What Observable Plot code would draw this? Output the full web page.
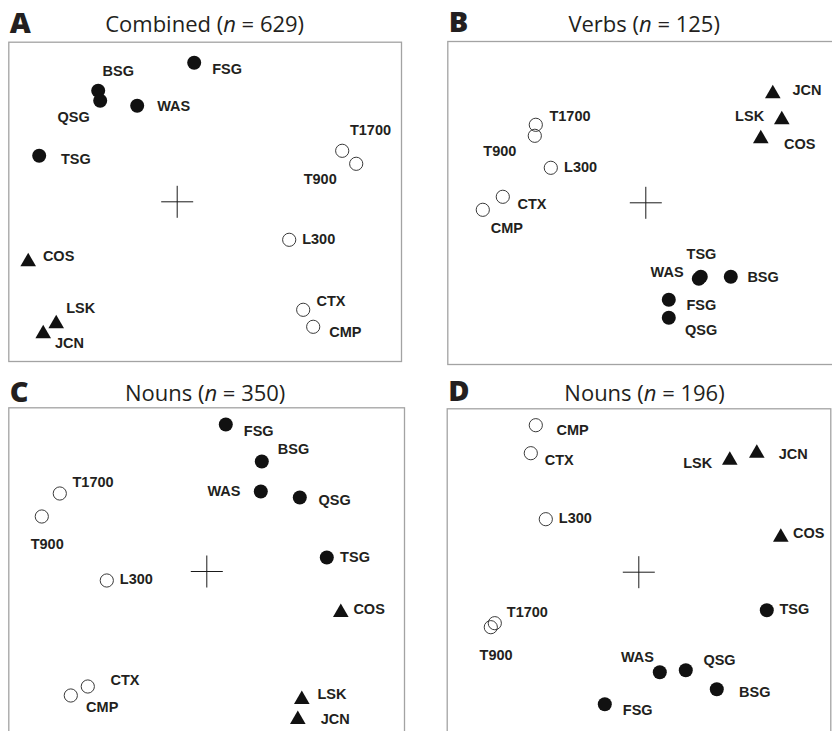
<!DOCTYPE html>
<html><head><meta charset="utf-8">
<script src="https://cdn.jsdelivr.net/npm/d3@7"></script>
<script src="https://cdn.jsdelivr.net/npm/@observablehq/plot@0.6"></script>
<style>
html,body{margin:0;padding:0;background:#fff;overflow:hidden;}
#root{position:relative;width:832px;height:731px;overflow:hidden;background:#fff;}
#root svg{position:absolute;overflow:visible;background:transparent;}
</style></head><body><div id="root"></div>
<script>
// ---- data ----
const labels = ["BSG","FSG","QSG","TSG","WAS","T1700","T900","L300","CTX","CMP","COS","LSK","JCN"];
const groups = ["filled","filled","filled","filled","filled","open","open","open","open","open","triangle","triangle","triangle"];
const panelLetters = ["A","B","C","D"];
const panelNames = ["Combined","Verbs","Nouns","Nouns"];
const panelN = [629,125,350,196];

const combinedX = [-0.79, 0.17, -0.77, -1.38, -0.40, 1.65, 1.79, 1.12, 1.26, 1.36, -1.49, -1.21, -1.34];
const combinedY = [ 1.11, 1.39,  1.01,  0.46,  0.96, 0.51, 0.38, -0.38, -1.08, -1.25, -0.60, -1.22, -1.32];
const verbsX = [0.85, 0.23, 0.23, 0.55, 0.53, -1.10, -1.11, -0.95, -1.43, -1.63, 1.15, 1.36, 1.27];
const verbsY = [-0.74, -0.97, -1.15, -0.74, -0.76, 0.78, 0.67, 0.35, 0.06, -0.07, 0.64, 0.83, 1.09];
const nouns350X = [0.55, 0.19, 0.93, 1.20, 0.54, -1.47, -1.65, -1.00, -1.19, -1.36, 1.34, 0.95, 0.91];
const nouns350Y = [1.10, 1.47, 0.74, 0.14, 0.80, 0.78, 0.55, -0.09, -1.15, -1.24, -0.41, -1.28, -1.48];
const nouns196X = [0.78, -0.34, 0.47, 1.28, 0.21, -1.44, -1.48, -0.93, -1.08, -1.03, 1.42, 0.91, 1.18];
const nouns196Y = [-1.17, -1.32, -0.98, -0.38, -1.00, -0.51, -0.55, 0.53, 1.19, 1.47, 0.35, 1.12, 1.19];
const origin = [{x: 0, y: 0}];

const panelX = [combinedX, verbsX, nouns350X, nouns196X];
const panelY = [combinedY, verbsY, nouns350Y, nouns196Y];

// ---- layout (pixels) ----
const K = 100; // pixels per unit
const layout = [
  {svgLeft: 0,   svgTop: 0,   left: 8.3,   top: 41.7,  right: 401,   bottom: 361, cx: 176.7, cy: 201.3, letterDy: -9.4, titleDy: -10.2, titleDx: -0.5},
  {svgLeft: 420, svgTop: 0,   left: 447.3, top: 41,    right: 840,   bottom: 364, cx: 645.3, cy: 202.3, letterDy: -9.3, titleDy: -10,   titleDx: 0},
  {svgLeft: 0,   svgTop: 360, left: 8.3,   top: 407.3, right: 404,   bottom: 780, cx: 206.3, cy: 571,   letterDy: -6.3, titleDy: -6.6,  titleDx: -1.5},
  {svgLeft: 420, svgTop: 360, left: 446.7, top: 408.3, right: 830.3, bottom: 780, cx: 638.3, cy: 571.7, letterDy: -7.3, titleDy: -7.6,  titleDx: 5.5}
];
// label placement: [dx, dy, anchor] in pixels
const labelPlacement = [
  {BSG:[20,-19.3,"middle"], FSG:[18,6.3,"start"], QSG:[-26.6,16.6,"middle"], TSG:[21.7,4,"start"], WAS:[20,1,"start"],
   T1700:[28.3,-20,"middle"], T900:[-36,15.6,"middle"], L300:[13,0,"start"], CTX:[13.3,-8,"start"], CMP:[16,5.4,"start"],
   COS:[14.7,-5.4,"start"], LSK:[10,-15,"start"], JCN:[11.7,10,"start"]},
  {BSG:[16.6,0.6,"start"], FSG:[17.7,5.3,"start"], QSG:[32.3,12.3,"middle"], TSG:[0.7,-22,"middle"], WAS:[-15.2,-6.8,"end"],
   T1700:[13.6,-8,"start"], T900:[-35,15.7,"middle"], L300:[13.3,-0.6,"start"], CTX:[14.7,7.3,"start"], CMP:[24,18.7,"middle"],
   COS:[23.3,5.1,"start"], LSK:[-17.7,-3.5,"end"], JCN:[19.7,-3.6,"start"]},
  {BSG:[16,-11.7,"start"], FSG:[18,6.4,"start"], QSG:[18.7,2.7,"start"], TSG:[13.3,-0.6,"start"], WAS:[-20.3,0,"end"],
   T1700:[12.7,-11.6,"start"], T900:[5.4,27.6,"middle"], L300:[13,-1,"start"], CTX:[22.7,-6,"start"], CMP:[15.3,11.7,"start"],
   COS:[12.6,-3.5,"start"], LSK:[15.6,-5.6,"start"], JCN:[23,0,"start"]},
  {BSG:[22.3,2.7,"start"], FSG:[18,6,"start"], QSG:[17.6,-10,"start"], TSG:[12.6,-0.6,"start"], WAS:[-22.3,-15,"middle"],
   T1700:[12,-10.6,"start"], T900:[5.3,28.3,"middle"], L300:[13,-1,"start"], CTX:[14,6.7,"start"], CMP:[20.7,5,"start"],
   COS:[12.3,-3.5,"start"], LSK:[-17.6,3.4,"end"], JCN:[22,1.4,"start"]}
];

const crossSymbol = {
  draw(ctx, size) {
    const r = Math.sqrt(size / Math.PI);
    ctx.moveTo(-r, 0); ctx.lineTo(r, 0);
    ctx.moveTo(0, -r); ctx.lineTo(0, r);
  }
};

const ink = "#231f20";
const root = document.getElementById("root");

panelLetters.forEach((letter, i) => {
  const L = layout[i];
  const pts = labels.map((name, j) => {
    const [dx, dy, anchor] = labelPlacement[i][name];
    return {name, group: groups[j], x: panelX[i][j], y: panelY[i][j],
            lx: panelX[i][j] + dx / K, ly: panelY[i][j] - dy / K, anchor};
  });
  const width = L.right - L.svgLeft + 1;
  const height = L.bottom - L.svgTop + 1;
  const labelMark = (anchor) => Plot.text(pts.filter(d => d.anchor === anchor), {
    x: "lx", y: "ly", text: "name", textAnchor: anchor,
    fontFamily: "'Liberation Sans', Arial, Helvetica, sans-serif", fontWeight: "bold", fontSize: 14.5, fill: ink
  });
  const svg = Plot.plot({
    width, height,
    marginLeft: L.left - L.svgLeft, marginTop: L.top - L.svgTop, marginRight: 1, marginBottom: 1,
    x: {domain: [(L.left - L.cx) / K, (L.right - L.cx) / K], axis: null},
    y: {domain: [(L.cy - L.bottom) / K, (L.cy - L.top) / K], axis: null},
    style: {background: "transparent", overflow: "visible"},
    marks: [
      Plot.frame({stroke: "#a3a3a3", strokeWidth: 1.3}),
      Plot.dot(origin, {x: "x", y: "y", symbol: crossSymbol, r: 16, stroke: "#1a1a1a", strokeWidth: 1, fill: "none"}),
      Plot.dot(pts.filter(d => d.group === "open"), {x: "x", y: "y", r: 6.6, stroke: "#3a3a3a", strokeWidth: 1, fill: "none"}),
      Plot.dot(pts.filter(d => d.group === "filled"), {x: "x", y: "y", r: 7, fill: "#111", stroke: "none"}),
      Plot.dot(pts.filter(d => d.group === "triangle"), {x: "x", y: "y", r: 5.8, symbol: "triangle", fill: "#111", stroke: "none"}),
      labelMark("start"), labelMark("middle"), labelMark("end"),
      Plot.text([letter], {frameAnchor: "top-left", text: d => d, dx: 1, dy: L.letterDy, textAnchor: "start", lineAnchor: "bottom",
        fontFamily: "'Open Sans', 'Noto Sans', sans-serif", fontWeight: 800, fontSize: 29, fill: ink}),
      Plot.text([`${panelNames[i]} (n = ${panelN[i]})`], {frameAnchor: "top", text: d => d, dx: L.titleDx, dy: L.titleDy, textAnchor: "middle", lineAnchor: "bottom",
        fontFamily: "'Open Sans', 'Noto Sans', sans-serif", fontWeight: "normal", fontSize: 22, fill: ink})
    ]
  });
  svg.style.left = L.svgLeft + "px";
  svg.style.top = L.svgTop + "px";
  // italicize n in the title
  svg.querySelectorAll("text").forEach(t => {
    const s = t.textContent;
    const m = s.match(/^(.*\()n( = .*)$/);
    if (m) {
      t.textContent = "";
      t.appendChild(document.createTextNode(m[1]));
      const ts = document.createElementNS("http://www.w3.org/2000/svg", "tspan");
      ts.setAttribute("font-style", "italic");
      ts.textContent = "n";
      t.appendChild(ts);
      t.appendChild(document.createTextNode(m[2]));
    }
  });
  root.appendChild(svg);
});
</script></body></html>
